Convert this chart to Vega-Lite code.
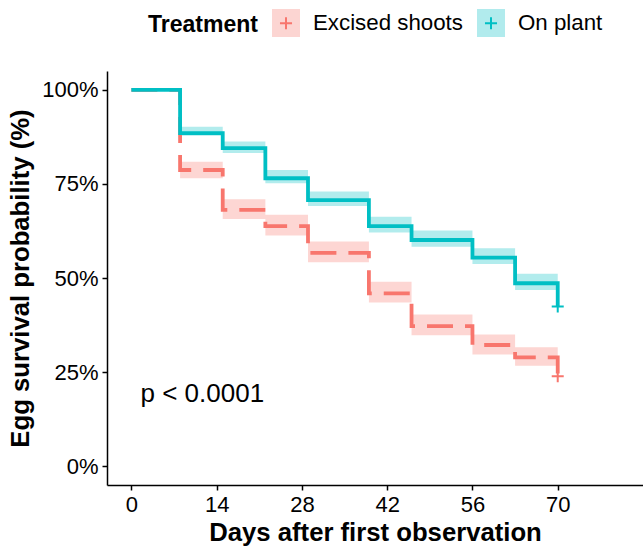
{
  "$schema": "https://vega.github.io/schema/vega-lite/v6.json",
  "width": 536,
  "height": 414,
  "autosize": {"type": "none"},
  "padding": {"left": 107, "top": 71, "right": 0, "bottom": 65},
  "background": "white",
  "datasets": {
    "km": [
      {"Treatment": "Excised shoots", "day": 0, "surv": 100},
      {"Treatment": "Excised shoots", "day": 8, "surv": 78.7},
      {"Treatment": "Excised shoots", "day": 15, "surv": 68.1},
      {"Treatment": "Excised shoots", "day": 22, "surv": 63.8},
      {"Treatment": "Excised shoots", "day": 29, "surv": 56.7},
      {"Treatment": "Excised shoots", "day": 39, "surv": 45.9},
      {"Treatment": "Excised shoots", "day": 46, "surv": 37.2},
      {"Treatment": "Excised shoots", "day": 56, "surv": 32.2},
      {"Treatment": "Excised shoots", "day": 63, "surv": 28.9},
      {"Treatment": "Excised shoots", "day": 70, "surv": 23.9},
      {"Treatment": "On plant", "day": 0, "surv": 100},
      {"Treatment": "On plant", "day": 8, "surv": 88.5},
      {"Treatment": "On plant", "day": 15, "surv": 84.5},
      {"Treatment": "On plant", "day": 22, "surv": 76.5},
      {"Treatment": "On plant", "day": 29, "surv": 70.7},
      {"Treatment": "On plant", "day": 39, "surv": 63.8},
      {"Treatment": "On plant", "day": 46, "surv": 60.1},
      {"Treatment": "On plant", "day": 56, "surv": 55.4},
      {"Treatment": "On plant", "day": 63, "surv": 48.6},
      {"Treatment": "On plant", "day": 70, "surv": 42.4}
    ],
    "bands": [
      {"Treatment": "Excised shoots", "day": 8, "lo": 76.5, "hi": 80.9},
      {"Treatment": "Excised shoots", "day": 15, "lo": 65.7, "hi": 70.9},
      {"Treatment": "Excised shoots", "day": 22, "lo": 61.3, "hi": 66.8},
      {"Treatment": "Excised shoots", "day": 29, "lo": 54.2, "hi": 59.7},
      {"Treatment": "Excised shoots", "day": 39, "lo": 43.5, "hi": 49.0},
      {"Treatment": "Excised shoots", "day": 46, "lo": 34.8, "hi": 40.3},
      {"Treatment": "Excised shoots", "day": 56, "lo": 29.7, "hi": 35.0},
      {"Treatment": "Excised shoots", "day": 63, "lo": 26.7, "hi": 31.6},
      {"Treatment": "Excised shoots", "day": 70, "lo": 26.7, "hi": 31.6},
      {"Treatment": "On plant", "day": 8, "lo": 87.8, "hi": 90.2},
      {"Treatment": "On plant", "day": 15, "lo": 83.2, "hi": 86.3},
      {"Treatment": "On plant", "day": 22, "lo": 75.2, "hi": 78.7},
      {"Treatment": "On plant", "day": 29, "lo": 69.1, "hi": 73.0},
      {"Treatment": "On plant", "day": 39, "lo": 62.1, "hi": 66.3},
      {"Treatment": "On plant", "day": 46, "lo": 58.3, "hi": 62.6},
      {"Treatment": "On plant", "day": 56, "lo": 53.7, "hi": 57.9},
      {"Treatment": "On plant", "day": 63, "lo": 46.8, "hi": 51.1},
      {"Treatment": "On plant", "day": 70, "lo": 46.8, "hi": 51.1}
    ],
    "censor": [
      {"Treatment": "Excised shoots", "day": 70, "surv": 23.9},
      {"Treatment": "On plant", "day": 70, "surv": 42.4}
    ],
    "pval": [
      {"day": 1.5, "surv": 17.1, "label": "p < 0.0001"}
    ]
  },
  "layer": [
    {
      "data": {"name": "bands"},
      "mark": {"type": "area", "interpolate": "step-after", "opacity": 0.3},
      "encoding": {
        "x": {"field": "day", "type": "quantitative", "scale": {"domain": [-4, 84], "nice": false, "zero": false},
              "axis": {"values": [0, 14, 28, 42, 56, 70], "title": "Days after first observation"}},
        "y": {"field": "lo", "type": "quantitative", "scale": {"domain": [-5, 105], "nice": false, "zero": false},
              "axis": {"values": [0, 25, 50, 75, 100], "labelExpr": "datum.value + '%'", "title": "Egg survival probability (%)"}},
        "y2": {"field": "hi"},
        "fill": {"field": "Treatment", "type": "nominal",
                 "scale": {"domain": ["Excised shoots", "On plant"], "range": ["#F8766D", "#00BFC4"]},
                 "legend": {
                   "title": "Treatment",
                   "zindex": 0,
                   "legendX": 41,
                   "titleOrient": "left",
                   "titleAnchor": "middle",
                   "titleBaseline": "middle",
                   "titlePadding": 13,
                   "labelOffset": 12,
                   "columnPadding": 10,
                   "symbolType": "square",
                   "symbolStrokeColor": "transparent",
                   "encode": {"symbols": {"update": {"fillOpacity": {"value": 0.3}, "strokeOpacity": {"value": 0}, "opacity": {"value": 1}}}}
                 }}
      }
    },
    {
      "data": {"name": "km"},
      "mark": {"type": "line", "interpolate": "step-after", "strokeWidth": 3.8},
      "encoding": {
        "x": {"field": "day", "type": "quantitative"},
        "y": {"field": "surv", "type": "quantitative"},
        "stroke": {"field": "Treatment", "type": "nominal",
                   "scale": {"domain": ["On plant", "Excised shoots"], "range": ["#00BFC4", "#F8766D"]},
                   "legend": {
                     "title": null,
                     "values": ["Excised shoots", "On plant"],
                     "zindex": 1,
                     "legendX": 164,
                     "labelExpr": "''",
                     "labelOffset": 0,
                     "columnPadding": 175,
                     "symbolType": "M-0.43,0H0.43M0,-0.43V0.43",
                     "encode": {"symbols": {"update": {"fill": {"value": "transparent"}, "opacity": {"value": 1}, "strokeOpacity": {"value": 1}, "strokeWidth": {"value": 2}}}}
                   }},
        "strokeDash": {"field": "Treatment", "type": "nominal",
                       "scale": {"domain": ["Excised shoots", "On plant"], "range": [[26, 12], [1, 0]]},
                       "legend": null},
        "order": {"field": "day"}
      }
    },
    {
      "data": {"name": "censor"},
      "mark": {"type": "point", "shape": "M-1,0H1M0,-1V1", "filled": false, "size": 144, "strokeWidth": 2, "opacity": 1},
      "encoding": {
        "x": {"field": "day", "type": "quantitative"},
        "y": {"field": "surv", "type": "quantitative"},
        "stroke": {"field": "Treatment", "type": "nominal"}
      }
    },
    {
      "data": {"name": "pval"},
      "mark": {"type": "text", "align": "left", "baseline": "alphabetic", "fontSize": 26, "font": "Liberation Sans", "color": "black"},
      "encoding": {
        "x": {"field": "day", "type": "quantitative"},
        "y": {"field": "surv", "type": "quantitative"},
        "text": {"field": "label"}
      }
    }
  ],
  "config": {
    "view": {"stroke": null},
    "font": "Liberation Sans",
    "axis": {
      "grid": false,
      "domainColor": "black",
      "domainWidth": 1.5,
      "tickColor": "black",
      "tickWidth": 1.5,
      "tickSize": 5,
      "labelFont": "Liberation Sans",
      "labelFontSize": 22,
      "labelColor": "black",
      "labelPadding": 4,
      "titleFont": "Liberation Sans",
      "titleFontSize": 25.7,
      "titleFontWeight": "bold",
      "titleColor": "black"
    },
    "axisY": {"titlePadding": 8},
    "axisX": {"titlePadding": 5, "labelFlush": false},
    "legend": {
      "orient": "none",
      "legendY": -63,
      "direction": "horizontal",
      "symbolSize": 784,
      "symbolStrokeWidth": 2,
      "padding": 0,
      "labelFont": "Liberation Sans",
      "labelFontSize": 22.3,
      "labelColor": "black",
      "titleFont": "Liberation Sans",
      "titleFontSize": 23,
      "titleFontWeight": "bold",
      "titleColor": "black"
    }
  }
}
